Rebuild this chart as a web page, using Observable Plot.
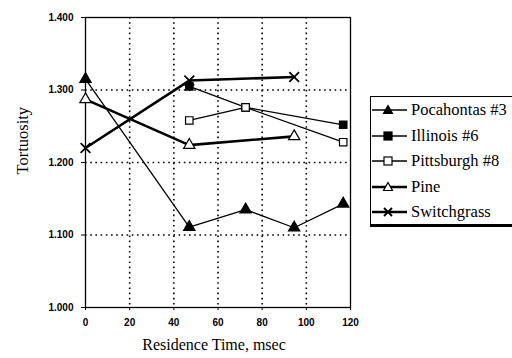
<!DOCTYPE html>
<html><head><meta charset="utf-8">
<script src="https://cdn.jsdelivr.net/npm/d3@7"></script>
<script src="https://cdn.jsdelivr.net/npm/@observablehq/plot@0.6"></script>
<style>
body{margin:0;background:#fff;}
#wrap{position:relative;width:512px;height:358px;overflow:hidden;}
#legend{position:absolute;left:370px;top:96px;width:150px;height:131px;border:1.3px solid #000;border-bottom-width:3.5px;border-right-width:3px;background:#fff;box-sizing:border-box;font-family:Liberation Serif, serif;font-size:16.5px;color:#000;}
.row{position:absolute;left:0;height:22px;display:flex;align-items:center;white-space:nowrap;}
.row span{font-family:Liberation Serif, serif;}
</style>
</head><body>
<div id="wrap"></div>
<script>
const seriesNames = ["Pocahontas #3", "Illinois #6", "Pittsburgh #8", "Pine", "Switchgrass"];
const pocahontasX = [0, 47, 72.5, 94.5, 116.7];
const pocahontasY = [1.315, 1.111, 1.135, 1.110, 1.143];
const illinoisX = [47, 72.5, 116.7];
const illinoisY = [1.305, 1.276, 1.252];
const pittsburghX = [47, 72.5, 116.7];
const pittsburghY = [1.258, 1.276, 1.228];
const pineX = [0, 47, 94.5];
const pineY = [1.287, 1.224, 1.236];
const switchgrassX = [0, 47, 94.5];
const switchgrassY = [1.220, 1.313, 1.318];
const xTicks = [0, 20, 40, 60, 80, 100, 120];
const yTicks = [1.0, 1.1, 1.2, 1.3, 1.4];
const xGrid = [20, 40, 60, 80, 100];
const yGrid = [1.1, 1.2, 1.3];

const styles = {
  "Pocahontas #3": {symbol: "triangle", fill: "#000", sw: 1.3, r: 4.2},
  "Illinois #6": {symbol: "square", fill: "#000", sw: 1.3, r: 4.2},
  "Pittsburgh #8": {symbol: "square", fill: "#fff", sw: 1.3, r: 4.2},
  "Pine": {symbol: "triangle", fill: "#fff", sw: 2.6, r: 4.2},
  "Switchgrass": {symbol: "times", fill: "none", sw: 2.6, r: 4.5}
};
const xs = [pocahontasX, illinoisX, pittsburghX, pineX, switchgrassX];
const ys = [pocahontasY, illinoisY, pittsburghY, pineY, switchgrassY];
const data = [];
seriesNames.forEach((s, i) => xs[i].forEach((x, j) => data.push({series: s, x, y: ys[i][j]})));

const serif = "Liberation Serif";
const marks = [
  Plot.ruleX(xGrid, {stroke: "#000", strokeWidth: 1.6, strokeDasharray: "1.6,3.6"}),
  Plot.ruleY(yGrid, {stroke: "#000", strokeWidth: 1.6, strokeDasharray: "1.6,3.6"}),
  Plot.frame({stroke: "#000", strokeWidth: 1.3}),
  Plot.axisX({ticks: xTicks, tickSize: 3, tickPadding: 8, tickFormat: d3.format("d"), label: null, fontWeight: "bold", fontSize: 10}),
  Plot.axisY({ticks: yTicks, tickSize: 4, tickPadding: 8, tickFormat: d3.format(".3f"), label: null, fontWeight: "bold", fontSize: 10}),
  Plot.text(["Residence Time, msec"], {frameAnchor: "bottom", dy: 42, dx: -4, fontSize: 16, fontFamily: serif, fill: "#000"}),
  Plot.text(["Tortuosity"], {frameAnchor: "left", dx: -63, dy: 12, rotate: -90, fontSize: 16.5, fontFamily: serif, fill: "#000"})
];
for (const s of seriesNames) {
  const st = styles[s];
  const d = data.filter(e => e.series === s);
  marks.push(Plot.line(d, {x: "x", y: "y", stroke: "#000", strokeWidth: st.sw}));
}
for (const s of seriesNames) {
  const st = styles[s];
  const d = data.filter(e => e.series === s);
  marks.push(Plot.dot(d, {x: "x", y: "y", symbol: () => st.symbol, r: st.r, fill: st.fill, stroke: "#000", strokeWidth: st.symbol === "times" ? 1.8 : 1.2}));
}

const chart = Plot.plot({
  width: 512, height: 358,
  marginLeft: 85, marginRight: 162, marginTop: 17, marginBottom: 51,
  x: {domain: [0, 120]},
  y: {domain: [1.0, 1.4]},
  symbol: {type: "identity"},
  style: {fontFamily: "Liberation Sans, Arial, sans-serif", background: "#fff", color: "#000"},
  marks
});
const wrap = document.getElementById("wrap");
wrap.appendChild(chart);

// legend
const leg = document.createElement("div");
leg.id = "legend";
const symPaths = {
  triangle: (f) => `<path d="M17,6.5 L21.5,14.5 L12.5,14.5 Z" fill="${f}" stroke="#000" stroke-width="1.2"/>`,
  square: (f) => `<rect x="13" y="7" width="8" height="8" fill="${f}" stroke="#000" stroke-width="1.2"/>`,
  times: () => `<path d="M13,7 L21,15 M21,7 L13,15" stroke="#000" stroke-width="1.8"/>`
};
seriesNames.forEach((s, i) => {
  const st = styles[s];
  const row = document.createElement("div");
  row.className = "row";
  row.style.top = (2 + i * 25.5) + "px";
  row.innerHTML = `<svg width="36" height="22" style="margin-right:4px"><line x1="1" x2="36" y1="11" y2="11" stroke="#000" stroke-width="${st.sw}"/>${symPaths[st.symbol](st.fill)}</svg><span>${s}</span>`;
  leg.appendChild(row);
});
wrap.appendChild(leg);
</script>
</body></html>
